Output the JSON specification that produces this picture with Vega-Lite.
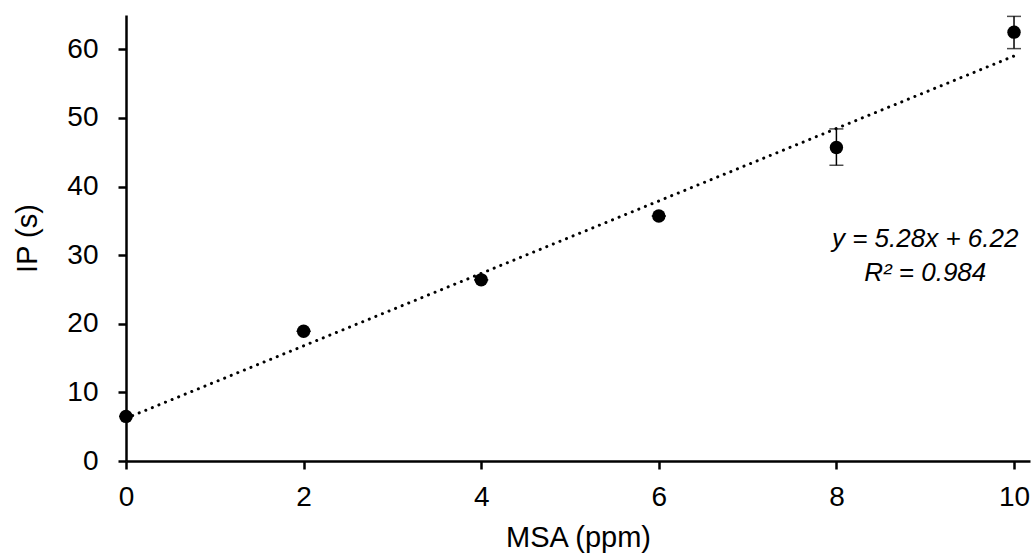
{
  "$schema": "https://vega.github.io/schema/vega-lite/v6.json",
  "autosize": {"type": "none"},
  "width": 904,
  "height": 446,
  "padding": {"left": 126, "top": 15, "right": 4, "bottom": 93},
  "background": "white",
  "config": {
    "view": {"stroke": null}
  },
  "datasets": {
    "pts": [
      {"x": 0, "y": 6.5, "lo": 6.5, "hi": 6.5},
      {"x": 2, "y": 18.9, "lo": 18.9, "hi": 18.9},
      {"x": 4, "y": 26.4, "lo": 26.4, "hi": 26.4},
      {"x": 6, "y": 35.7, "lo": 35.7, "hi": 35.7},
      {"x": 8, "y": 45.7, "lo": 43.1, "hi": 48.4},
      {"x": 10, "y": 62.5, "lo": 60.1, "hi": 64.8}
    ],
    "fit": [
      {"x": 0, "y": 6.22},
      {"x": 10, "y": 59.02}
    ],
    "ann": [
      {"x": 9.0, "y": 32.3, "t": "y = 5.28x + 6.22"},
      {"x": 9.0, "y": 27.4, "t": "R² = 0.984"}
    ]
  },
  "layer": [
    {
      "data": {"name": "fit"},
      "mark": {"type": "line", "color": "black", "strokeWidth": 3, "strokeDash": [0.1, 7], "strokeCap": "round"},
      "encoding": {
        "x": {"field": "x", "type": "quantitative", "scale": {"domain": [0, 10.18], "nice": false, "zero": false},
          "axis": {"values": [0, 2, 4, 6, 8, 10], "format": "d", "title": "MSA (ppm)", "grid": false, "labelFlush": false,
            "domainColor": "black", "domainWidth": 2.5, "tickColor": "black", "tickWidth": 2.5, "tickSize": 8,
            "labelFontSize": 28, "titleFontSize": 29, "labelColor": "black", "titleColor": "black", "titleFontWeight": "normal",
            "labelFont": "Liberation Sans", "titleFont": "Liberation Sans", "labelPadding": 14, "titlePadding": 12}},
        "y": {"field": "y", "type": "quantitative", "scale": {"domain": [0, 65], "nice": false},
          "axis": {"values": [0, 10, 20, 30, 40, 50, 60], "format": "d", "title": "IP (s)", "grid": false, "labelFlush": false,
            "domainColor": "black", "domainWidth": 2.5, "tickColor": "black", "tickWidth": 2.5, "tickSize": 8,
            "labelFontSize": 28, "titleFontSize": 29, "labelColor": "black", "titleColor": "black", "titleFontWeight": "normal",
            "labelFont": "Liberation Sans", "titleFont": "Liberation Sans", "labelPadding": 20, "titlePadding": 24}}
      }
    },
    {
      "data": {"name": "pts"},
      "mark": {"type": "rule", "color": "black", "strokeWidth": 1.5},
      "encoding": {
        "x": {"field": "x", "type": "quantitative"},
        "y": {"field": "lo", "type": "quantitative"},
        "y2": {"field": "hi"}
      }
    },
    {
      "data": {"name": "pts"},
      "mark": {"type": "tick", "color": "black", "orient": "horizontal", "size": 14, "thickness": 1.5},
      "encoding": {
        "x": {"field": "x", "type": "quantitative"},
        "y": {"field": "lo", "type": "quantitative"}
      }
    },
    {
      "data": {"name": "pts"},
      "mark": {"type": "tick", "color": "black", "orient": "horizontal", "size": 14, "thickness": 1.5},
      "encoding": {
        "x": {"field": "x", "type": "quantitative"},
        "y": {"field": "hi", "type": "quantitative"}
      }
    },
    {
      "data": {"name": "pts"},
      "mark": {"type": "point", "shape": "circle", "filled": true, "color": "black", "opacity": 1, "size": 180},
      "encoding": {
        "x": {"field": "x", "type": "quantitative"},
        "y": {"field": "y", "type": "quantitative"}
      }
    },
    {
      "data": {"name": "ann"},
      "mark": {"type": "text", "fontSize": 26, "fontStyle": "italic", "font": "Liberation Sans", "color": "black", "align": "center", "baseline": "middle"},
      "encoding": {
        "x": {"field": "x", "type": "quantitative"},
        "y": {"field": "y", "type": "quantitative"},
        "text": {"field": "t"}
      }
    }
  ]
}
